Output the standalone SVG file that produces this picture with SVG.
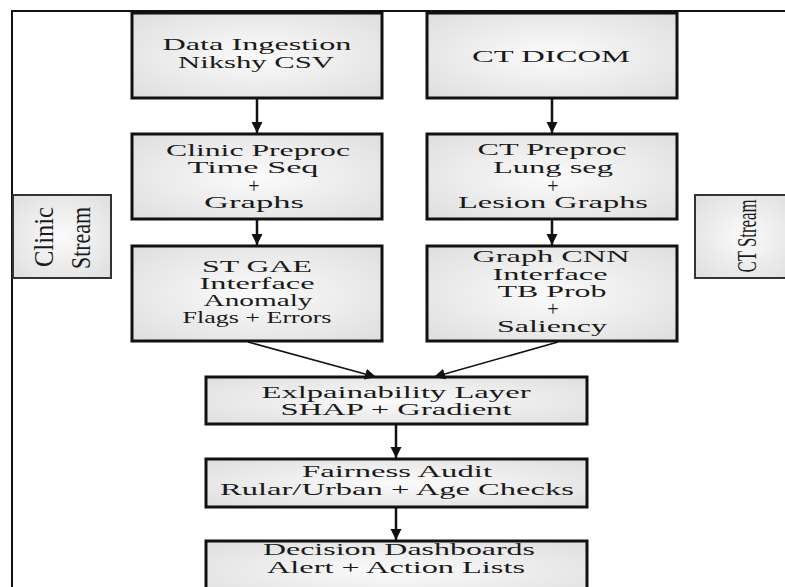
<svg xmlns="http://www.w3.org/2000/svg" width="785" height="587" viewBox="0 0 785 587">
<defs>
<radialGradient id="g" cx="50%" cy="50%" r="70%">
<stop offset="0" stop-color="#fbfbfb"/>
<stop offset="1" stop-color="#dedede"/>
</radialGradient>
<marker id="ah" markerUnits="userSpaceOnUse" markerWidth="12" markerHeight="12" viewBox="0 0 12 12" refX="11" refY="6" orient="auto">
<path d="M0,0.5 L11,6 L0,11.5 Z" fill="#111"/>
</marker>
<style>
.box{fill:url(#g);stroke:#111;stroke-width:3}
.side{fill:url(#g);stroke:#333;stroke-width:2}
.t{font-family:"Liberation Serif","Times New Roman",serif;font-size:17px;fill:#1a1a1a;text-anchor:middle}
.p{font-family:"Liberation Serif","Times New Roman",serif;font-size:20px;fill:#1a1a1a;text-anchor:middle}
.s{font-family:"Liberation Serif","Times New Roman",serif;font-size:28px;fill:#1a1a1a;text-anchor:middle}
.c{stroke:#111;fill:none}
</style>
</defs>
<rect width="785" height="587" fill="#fff"/>
<path d="M12,587 V11 H785" fill="none" stroke="#111" stroke-width="2"/>

<g id="clinic-stream">
<rect class="side" x="13" y="195" width="98" height="83"/>
<text class="s" transform="translate(53,237) rotate(-90)" textLength="60" lengthAdjust="spacingAndGlyphs">Clinic</text>
<text class="s" transform="translate(90,238) rotate(-90)" textLength="62" lengthAdjust="spacingAndGlyphs">Stream</text>
</g>
<g id="ct-stream">
<rect class="side" x="695" y="195" width="100" height="83"/>
<text class="s" transform="translate(756,236) rotate(-90)" textLength="73" lengthAdjust="spacingAndGlyphs">CT Stream</text>
</g>

<g id="data-ingestion">
<rect class="box" x="132" y="13" width="250" height="85"/>
<text class="t" x="257" y="50" textLength="189" lengthAdjust="spacingAndGlyphs">Data Ingestion</text>
<text class="t" x="256" y="68" textLength="156" lengthAdjust="spacingAndGlyphs">Nikshy CSV</text>
</g>
<g id="ct-dicom">
<rect class="box" x="427" y="13" width="250" height="85"/>
<text class="t" x="551" y="62" textLength="158" lengthAdjust="spacingAndGlyphs">CT DICOM</text>
</g>
<g id="clinic-preproc">
<rect class="box" x="132" y="134" width="250" height="85"/>
<text class="t" x="258" y="156" textLength="184" lengthAdjust="spacingAndGlyphs">Clinic Preproc</text>
<text class="t" x="253" y="173" textLength="131" lengthAdjust="spacingAndGlyphs">Time Seq</text>
<text class="p" x="254" y="193">+</text>
<text class="t" x="254" y="208" textLength="100" lengthAdjust="spacingAndGlyphs">Graphs</text>
</g>
<g id="ct-preproc">
<rect class="box" x="427" y="134" width="250" height="85"/>
<text class="t" x="552" y="155" textLength="149" lengthAdjust="spacingAndGlyphs">CT Preproc</text>
<text class="t" x="553" y="173" textLength="120" lengthAdjust="spacingAndGlyphs">Lung seg</text>
<text class="p" x="553" y="193">+</text>
<text class="t" x="553" y="208" textLength="190" lengthAdjust="spacingAndGlyphs">Lesion Graphs</text>
</g>
<g id="st-gae">
<rect class="box" x="132" y="246" width="250" height="95"/>
<text class="t" x="257" y="272" textLength="110" lengthAdjust="spacingAndGlyphs">ST GAE</text>
<text class="t" x="257" y="289" textLength="115" lengthAdjust="spacingAndGlyphs">Interface</text>
<text class="t" x="258" y="306" textLength="109" lengthAdjust="spacingAndGlyphs">Anomaly</text>
<text class="t" x="257" y="323" textLength="149" lengthAdjust="spacingAndGlyphs">Flags + Errors</text>
</g>
<g id="graph-cnn">
<rect class="box" x="427" y="246" width="250" height="95"/>
<text class="t" x="551" y="262" textLength="157" lengthAdjust="spacingAndGlyphs">Graph CNN</text>
<text class="t" x="550" y="280" textLength="115" lengthAdjust="spacingAndGlyphs">Interface</text>
<text class="t" x="552" y="297" textLength="109" lengthAdjust="spacingAndGlyphs">TB Prob</text>
<text class="p" x="553" y="316">+</text>
<text class="t" x="552" y="332" textLength="110" lengthAdjust="spacingAndGlyphs">Saliency</text>
</g>
<g id="explainability">
<rect class="box" x="206" y="377" width="381" height="47"/>
<text class="t" x="396" y="398" textLength="269" lengthAdjust="spacingAndGlyphs">Exlpainability Layer</text>
<text class="t" x="396" y="415" textLength="231" lengthAdjust="spacingAndGlyphs">SHAP + Gradient</text>
</g>
<g id="fairness">
<rect class="box" x="206" y="459" width="381" height="48"/>
<text class="t" x="397" y="477" textLength="190" lengthAdjust="spacingAndGlyphs">Fairness Audit</text>
<text class="t" x="397" y="495" textLength="354" lengthAdjust="spacingAndGlyphs">Rular/Urban + Age Checks</text>
</g>
<g id="decision">
<rect class="box" x="206" y="541" width="381" height="60"/>
<text class="t" x="399" y="555" textLength="272" lengthAdjust="spacingAndGlyphs">Decision Dashboards</text>
<text class="t" x="396" y="573" textLength="258" lengthAdjust="spacingAndGlyphs">Alert + Action Lists</text>
</g>

<g id="connectors">
<line class="c" stroke-width="2.5" x1="257" y1="99" x2="257" y2="133" marker-end="url(#ah)"/>
<line class="c" stroke-width="2.5" x1="257" y1="220" x2="257" y2="245" marker-end="url(#ah)"/>
<line class="c" stroke-width="2.5" x1="552" y1="99" x2="552" y2="133" marker-end="url(#ah)"/>
<line class="c" stroke-width="2.5" x1="552" y1="220" x2="552" y2="245" marker-end="url(#ah)"/>
<line class="c" stroke-width="1.5" x1="248" y1="342" x2="376" y2="377" marker-end="url(#ah)"/>
<line class="c" stroke-width="1.5" x1="558" y1="342" x2="434" y2="377" marker-end="url(#ah)"/>
<line class="c" stroke-width="2.5" x1="396" y1="425" x2="396" y2="458" marker-end="url(#ah)"/>
<line class="c" stroke-width="2.5" x1="396" y1="508" x2="396" y2="540" marker-end="url(#ah)"/>
</g>
</svg>
